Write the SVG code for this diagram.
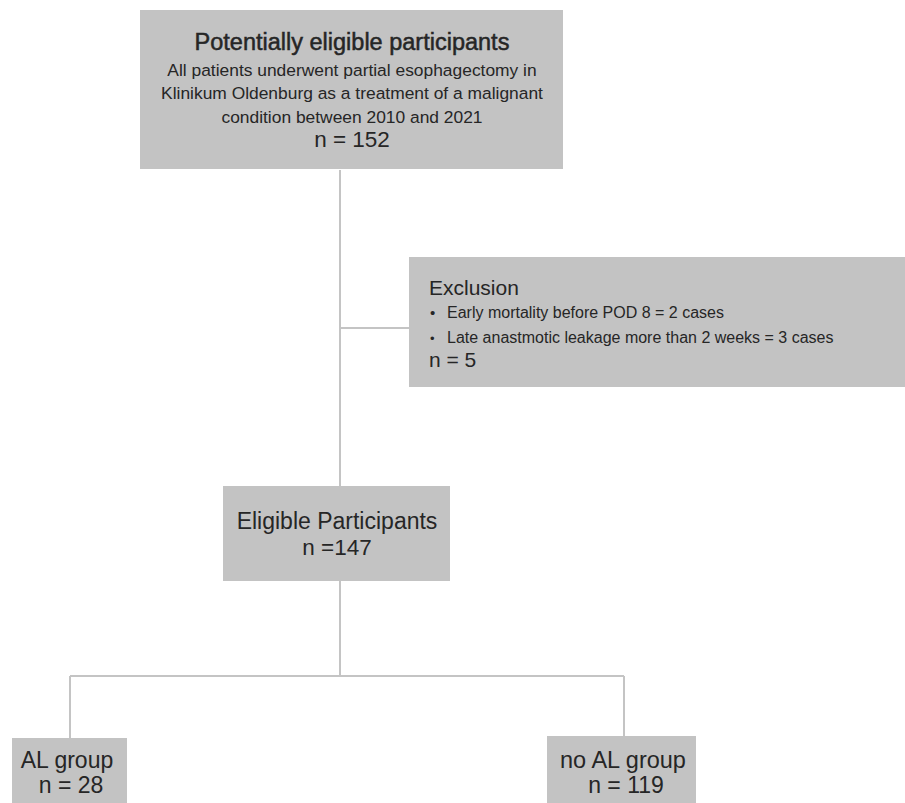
<svg xmlns="http://www.w3.org/2000/svg" width="905" height="803" viewBox="0 0 905 803">
<style>
.box{fill:#c3c3c3;}
.t{font-family:"Liberation Sans",Arial,sans-serif;fill:#262626;}
.c{text-anchor:middle;}
.h{stroke:#262626;stroke-width:0.5;}
.ln{stroke:#c4c4c4;stroke-width:2;fill:none;}
</style>
<rect width="905" height="803" fill="#ffffff"/>
<g id="connectors">
<line class="ln" x1="340" y1="170" x2="340" y2="487"/>
<line class="ln" x1="340" y1="328" x2="410" y2="328"/>
<line class="ln" x1="340" y1="581" x2="340" y2="676"/>
<line class="ln" x1="70" y1="676" x2="624" y2="676"/>
<line class="ln" x1="70" y1="676" x2="70" y2="738"/>
<line class="ln" x1="624" y1="676" x2="624" y2="736"/>
</g>
<g id="node-potential">
<rect class="box" x="140" y="10" width="423" height="159"/>
<text class="t c h" x="352" y="50" font-size="23.5">Potentially eligible participants</text>
<text class="t c" x="352" y="76" font-size="17.4">All patients underwent partial esophagectomy in</text>
<text class="t c" x="352" y="99" font-size="17.4">Klinikum Oldenburg as a treatment of a malignant</text>
<text class="t c" x="352" y="123" font-size="17.4">condition between 2010 and 2021</text>
<text class="t c" x="352" y="147" font-size="22.5">n = 152</text>
</g>
<g id="node-exclusion">
<rect class="box" x="409" y="257" width="496" height="130"/>
<text class="t" x="429" y="295" font-size="21">Exclusion</text>
<text class="t" x="430" y="318" font-size="15">•</text>
<text class="t" x="447" y="318" font-size="16">Early mortality before POD 8 = 2 cases</text>
<text class="t" x="430" y="343" font-size="13">•</text>
<text class="t" x="447" y="343" font-size="16">Late anastmotic leakage more than 2 weeks = 3 cases</text>
<text class="t" x="429" y="367" font-size="21">n = 5</text>
</g>
<g id="node-eligible">
<rect class="box" x="223" y="486" width="227" height="95"/>
<text class="t c" x="337" y="529" font-size="23">Eligible Participants</text>
<text class="t c" x="337" y="555" font-size="22.5">n =147</text>
</g>
<g id="node-al">
<rect class="box" x="12" y="738" width="115" height="65"/>
<text class="t c" x="67" y="768" font-size="23">AL group</text>
<text class="t c" x="71" y="793" font-size="23">n = 28</text>
</g>
<g id="node-noal">
<rect class="box" x="547" y="736" width="149" height="67"/>
<text class="t c" x="623" y="768" font-size="23.5">no AL group</text>
<text class="t c" x="626" y="793" font-size="23">n = 119</text>
</g>
</svg>
